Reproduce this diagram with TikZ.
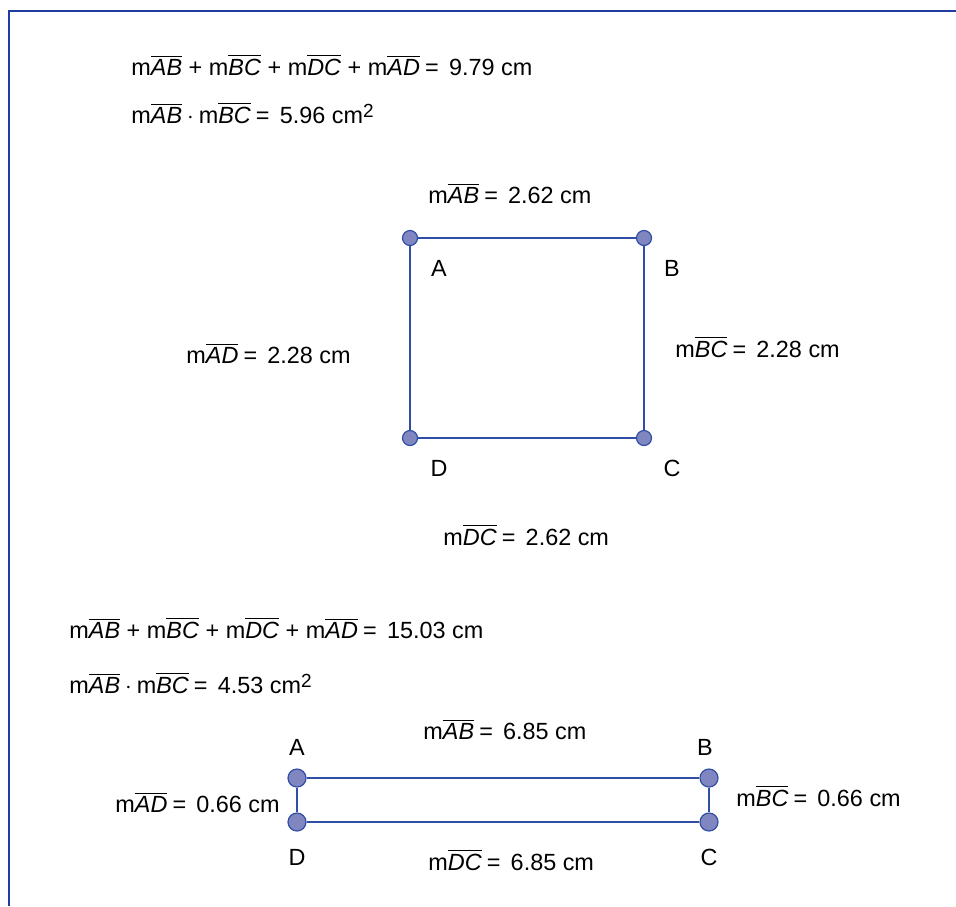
\documentclass[tikz,border=0pt]{standalone}
\usepackage{fontspec}
\setmainfont{Liberation Sans}
\usepackage{tikz}
\usetikzlibrary{positioning}

\definecolor{edgeblue}{RGB}{48,78,165}
\definecolor{dotfill}{RGB}{128,134,192}
\definecolor{framblue}{RGB}{32,60,160}

\newcommand{\seg}[1]{$\overline{\mbox{\itshape #1}}$}
\newcommand{\plus}{\kern3.3pt+\kern3.3pt}
\newcommand{\eq}{\kern2.6pt=\kern5.1pt}
\newcommand{\sqcm}{cm\raisebox{0.45ex}{\fontsize{9.5}{9.5}\selectfont 2}}

\begin{document}
\begin{tikzpicture}[x=0.5pt, y=-0.5pt,
    font=\fontsize{11.7}{14}\selectfont,
    txt/.style={anchor=base west, inner sep=0pt},
    vlabel/.style={anchor=base, inner sep=0pt},
    dot/.style={circle, draw=edgeblue, fill=dotfill, line width=0.6pt, minimum size=7.5pt, inner sep=0pt},
    bigdot/.style={dot, minimum size=9pt},
    side/.style={draw=edgeblue, line width=0.9pt}]

    \useasboundingbox (0,0) rectangle (956,906);
    \draw [framblue, line width=1pt] (956,11) -- (9,11) -- (9,906);

    % first rectangle
    \node [txt] (sum1) at (131,75) {m\seg{AB}\plus m\seg{BC}\plus m\seg{DC}\plus m\seg{AD}\eq 9.79 cm};
    \node [txt] (prod1) at (131,123) {m\seg{AB}\kern2.5pt$\cdot$\kern2.5pt m\seg{BC}\eq 5.96 \sqcm};

    \node [dot] (A1) at (410,238) {};
    \node [dot] (B1) at (644,238) {};
    \node [dot] (C1) at (644,438) {};
    \node [dot] (D1) at (410,438) {};
    \path [side] (A1) -- (B1);
    \path [side] (B1) -- (C1);
    \path [side] (C1) -- (D1);
    \path [side] (D1) -- (A1);

    \node [vlabel] (la1) at (439,276) {A};
    \node [vlabel] (lb1) at (672,276) {B};
    \node [vlabel] (lc1) at (672,476) {C};
    \node [vlabel] (ld1) at (439,476) {D};

    \node [txt] (ab1) at (428,203) {m\seg{AB}\eq 2.62 cm};
    \node [txt] (ad1) at (186,363) {m\seg{AD}\eq 2.28 cm};
    \node [txt] (bc1) at (675,357) {m\seg{BC}\eq 2.28 cm};
    \node [txt] (dc1) at (443,545) {m\seg{DC}\eq 2.62 cm};

    % second rectangle
    \node [txt] (sum2) at (69,638) {m\seg{AB}\plus m\seg{BC}\plus m\seg{DC}\plus m\seg{AD}\eq 15.03 cm};
    \node [txt] (prod2) at (69,693) {m\seg{AB}\kern2.5pt$\cdot$\kern2.5pt m\seg{BC}\eq 4.53 \sqcm};

    \node [bigdot] (A2) at (297,778) {};
    \node [bigdot] (B2) at (709,778) {};
    \node [bigdot] (C2) at (709,822) {};
    \node [bigdot] (D2) at (297,822) {};
    \path [side] (A2) -- (B2);
    \path [side] (B2) -- (C2);
    \path [side] (C2) -- (D2);
    \path [side] (D2) -- (A2);

    \node [vlabel] (la2) at (297,755) {A};
    \node [vlabel] (lb2) at (705,755) {B};
    \node [vlabel] (lc2) at (709,865) {C};
    \node [vlabel] (ld2) at (297,865) {D};

    \node [txt] (ab2) at (423,739) {m\seg{AB}\eq 6.85 cm};
    \node [txt] (ad2) at (115,812) {m\seg{AD}\eq 0.66 cm};
    \node [txt] (bc2) at (736,806) {m\seg{BC}\eq 0.66 cm};
    \node [txt] (dc2) at (428,870) {m\seg{DC}\eq 6.85 cm};
\end{tikzpicture}
\end{document}
